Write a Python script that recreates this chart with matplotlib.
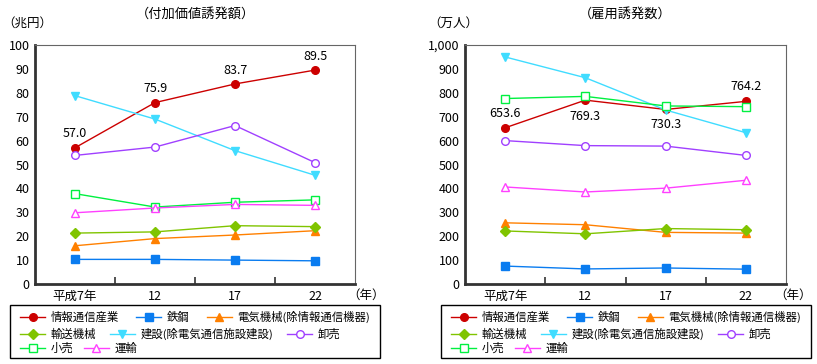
import matplotlib.pyplot as plt
from matplotlib.patches import Rectangle
import numpy as np

plt.rcParams['font.family'] = ['Noto Sans CJK JP', 'DejaVu Sans']

anos = ["平成7年", "12", "17", "22"]
series = ["情報通信産業", "鉄鋼", "電気機械(除情報通信機器)", "輸送機械",
          "建設(除電気通信施設建設)", "卸売", "小売", "運輸"]

# 付加価値誘発額（兆円）
fuka_joho = [57.0, 75.9, 83.7, 89.5]
fuka_tekko = [10.3, 10.3, 10.0, 9.7]
fuka_denki = [16.0, 19.0, 20.5, 22.3]
fuka_yuso = [21.3, 21.8, 24.4, 24.0]
fuka_kensetsu = [78.8, 69.0, 55.8, 45.5]
fuka_oroshi = [53.8, 57.3, 66.3, 50.8]
fuka_kouri = [37.8, 32.2, 34.2, 35.2]
fuka_unyu = [29.8, 31.8, 33.3, 32.9]

# 雇用誘発数（万人）
koyo_joho = [653.6, 769.3, 730.3, 764.2]
koyo_tekko = [75, 63, 67, 62]
koyo_denki = [256, 248, 216, 213]
koyo_yuso = [222, 210, 232, 227]
koyo_kensetsu = [950, 863, 728, 633]
koyo_oroshi = [600, 579, 577, 538]
koyo_kouri = [776, 785, 745, 742]
koyo_unyu = [406, 385, 401, 434]

# 色、マーカー
estilos = [
    dict(color="#cc0000", marker="o", mfc="#cc0000"),
    dict(color="#0a7cf0", marker="s", mfc="#0a7cf0"),
    dict(color="#ff8000", marker="^", mfc="#ff8000"),
    dict(color="#80c400", marker="D", mfc="#80c400", ms=5.5),
    dict(color="#40dcff", marker="v", mfc="#40dcff"),
    dict(color="#a040ff", marker="o", mfc="white"),
    dict(color="#00f040", marker="s", mfc="white"),
    dict(color="#ff40ff", marker="^", mfc="white"),
]

W, H = 817, 364
fig = plt.figure(figsize=(W/100, H/100), dpi=100)
ax1 = fig.add_axes([35/W, 1-284/H, 320/W, 239/H])
ax2 = fig.add_axes([465/W, 1-284/H, 321/W, 239/H])

x = np.arange(len(anos))


def desenha(ax, dados, ymax, passo, rotulos_y, offsets):
    linhas = []
    for nome, y, est in zip(series, dados, estilos):
        est = dict(est)
        ms = est.pop("ms", 5.5)
        l, = ax.plot(x, y, lw=1.0, ms=ms, mew=1.0, label=nome, **est)
        linhas.append(l)
    for xi, v, off in zip(x, dados[0], offsets):
        ax.annotate(f"{v:.1f}", (xi, v), xytext=(0, off), textcoords="offset points",
                    ha="center", va="center", fontsize=9)
    ax.set_xlim(-0.5, 3.5)
    ax.set_ylim(0, ymax)
    ax.set_yticks(np.arange(0, ymax + 1, passo))
    ax.set_yticklabels(rotulos_y, fontsize=9)
    ax.set_xticks(x)
    ax.set_xticklabels(anos, fontsize=9)
    ax.set_xticks([0.5, 1.5, 2.5], minor=True)
    ax.tick_params(axis="x", which="major", length=0, pad=4)
    ax.tick_params(axis="x", which="minor", direction="in", length=5, width=1.2, color="#333333")
    ax.tick_params(axis="y", length=0, pad=4)
    for lado in ["left", "bottom"]:
        ax.spines[lado].set_linewidth(2)
        ax.spines[lado].set_color("#333333")
    for lado in ["top", "right"]:
        ax.spines[lado].set_linewidth(0.8)
        ax.spines[lado].set_color("#666666")
    return linhas


l1 = desenha(ax1, [fuka_joho, fuka_tekko, fuka_denki, fuka_yuso, fuka_kensetsu,
                   fuka_oroshi, fuka_kouri, fuka_unyu],
             100, 10, [str(v) for v in range(0, 101, 10)], [10, 10, 10, 10])
l2 = desenha(ax2, [koyo_joho, koyo_tekko, koyo_denki, koyo_yuso, koyo_kensetsu,
                   koyo_oroshi, koyo_kouri, koyo_unyu],
             1000, 100, [f"{v:,}" for v in range(0, 1001, 100)], [10, -12, -11, 11])

# タイトル、単位
fig.text(195/W, 1-14/H, "（付加価値誘発額）", fontsize=9.5, ha="center", va="center")
fig.text(625/W, 1-14/H, "（雇用誘発数）", fontsize=9.5, ha="center", va="center")
fig.text(2/W, 1-23/H, "（兆円）", fontsize=9, ha="left", va="center")
fig.text(428/W, 1-23/H, "（万人）", fontsize=9, ha="left", va="center")
fig.text(366/W, 1-295/H, "（年）", fontsize=9, ha="center", va="center")
fig.text(793/W, 1-295/H, "（年）", fontsize=9, ha="center", va="center")

# 凡例（行ごと）
linhas_leg = [[0, 1, 2], [3, 4, 5], [6, 7]]
ys_leg = [317, 334, 348]
espacos = [1.5, 1.2, 0.9]
for linhas, x0 in [(l1, 10), (l2, 441)]:
    fig.patches.append(Rectangle((x0/W, 1-358/H), 370/W, 53/H, transform=fig.transFigure,
                                 fill=False, edgecolor="black", lw=1))
    for idx, yl, esp in zip(linhas_leg, ys_leg, espacos):
        fig.legend([linhas[i] for i in idx], [series[i] for i in idx], ncol=len(idx),
                   loc="center left", bbox_to_anchor=((x0 + 2)/W, 1-yl/H), fontsize=8.2,
                   frameon=False, handlelength=2.2, columnspacing=esp,
                   handletextpad=0.5, borderpad=0.2)

plt.savefig("out.png", dpi=100)
